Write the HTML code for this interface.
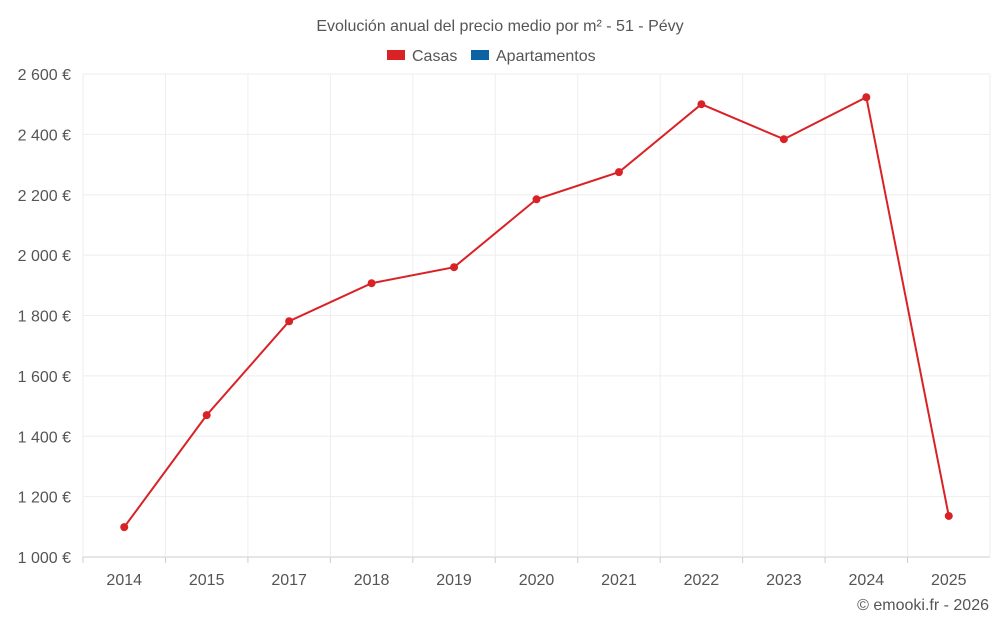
<!DOCTYPE html>
<html><head><meta charset="utf-8"><style>
body{margin:0;background:#fff;font-family:"Liberation Sans",sans-serif}
svg text{font-family:"Liberation Sans",sans-serif;fill:#555}
</style></head><body>
<svg id="chart" width="1000" height="625">
<text x="500" y="31" text-anchor="middle" font-size="16">Evolución anual del precio medio por m² - 51 - Pévy</text>
<g>
<g><rect x="387" y="50" width="18" height="10" fill="#d92226"/><text x="412" y="61" font-size="16">Casas</text></g>
<g><rect x="471" y="50" width="18" height="10" fill="#0b62a4"/><text x="496" y="61" font-size="16">Apartamentos</text></g>
</g>
<g id="grid"></g><g id="axes"></g><g id="series"></g>
<text x="989" y="610" text-anchor="end" font-size="16">© emooki.fr - 2026</text>
</svg>
<script>
const categories=["2014","2015","2017","2018","2019","2020","2021","2022","2023","2024","2025"];
const casasValues=[1099,1470,1781,1907,1960,2185,2275,2500,2384,2523,1136];
const yTicks=[1000,1200,1400,1600,1800,2000,2200,2400,2600];
const yTickLabels=["1 000 €","1 200 €","1 400 €","1 600 €","1 800 €","2 000 €","2 200 €","2 400 €","2 600 €"];
const L=83,R=990,T=74,B=557,yMin=1000,yMax=2600;
const ns="http://www.w3.org/2000/svg";
const band=(R-L)/categories.length;
const x=i=>L+band*(i+0.5);
const y=v=>B-(v-yMin)/(yMax-yMin)*(B-T);
function mk(tag,attrs,parent){const e=document.createElementNS(ns,tag);for(const k in attrs)e.setAttribute(k,attrs[k]);parent.appendChild(e);return e;}
const grid=document.getElementById('grid'),axes=document.getElementById('axes'),series=document.getElementById('series');
yTicks.forEach((t,i)=>{
 const l=mk('line',{x1:L,x2:R,y1:y(t),y2:y(t),stroke:i==0?'#ccc':'#eee'},grid);
 
 
 const tx=mk('text',{x:71,y:y(t)+6,'text-anchor':'end','font-size':16},axes);
 tx.textContent=yTickLabels[i];
 
 
});
for(let i=0;i<=categories.length;i++){
 const v=mk('line',{x1:L+band*i,x2:L+band*i,y1:T,y2:B,stroke:'#eee'},grid);
 
 
}
categories.forEach((c,i)=>{
 const tk=mk('line',{x1:L+band*i,x2:L+band*i,y1:B,y2:B+6,stroke:'#ccc'},axes);
 
 
 const tx=mk('text',{x:x(i),y:585,'text-anchor':'middle','font-size':16},axes);
 tx.textContent=c;
 
 
});
const pl=mk('polyline',{points:casasValues.map((v,i)=>x(i)+','+y(v)).join(' '),fill:'none',stroke:'#d92226','stroke-width':2},series);


casasValues.forEach((v,i)=>{
 const c=mk('circle',{cx:x(i),cy:y(v),r:4,fill:'#d92226'},series);
 
 
});
</script>
</body></html>
